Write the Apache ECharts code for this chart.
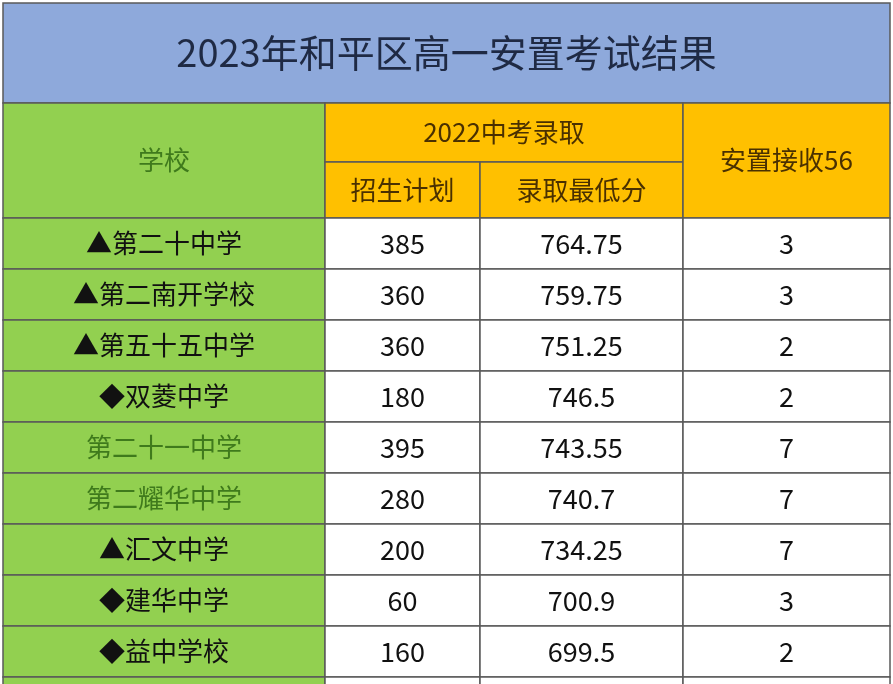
<!DOCTYPE html>
<html>
<head>
	<meta charset="utf-8">
	<title>安置考试结果</title>
	<script src="https://cdn.jsdelivr.net/npm/echarts@6/dist/echarts.min.js"></script>
	<style>body{margin:0;background:#fff}#main{width:893px;height:684px}</style>
</head>
<body>
	<div id="main"></div>
	<script>
		var titleText = '2023年和平区高一安置考试结果';
		var schools = ['▲第二十中学', '▲第二南开学校', '▲第五十五中学', '◆双菱中学', '第二十一中学', '第二耀华中学', '▲汇文中学', '◆建华中学', '◆益中学校'];
		var plans = ['385', '360', '360', '180', '395', '280', '200', '60', '160'];
		var minScores = ['764.75', '759.75', '751.25', '746.5', '743.55', '740.7', '734.25', '700.9', '699.5'];
		var placed = ['3', '3', '2', '2', '7', '7', '7', '3', '2'];

		var font = '"Noto Sans CJK SC", sans-serif';
		var colX = [3, 325, 480, 683, 893];
		var rowTop = 218, rowH = 51;
		var els = [];

		function cell(x, y, w, h, fill, text, color, size) {
			els.push({ type: 'rect', shape: { x: x, y: y, width: w, height: h },
				style: { fill: fill, stroke: '#5a5a5a', lineWidth: 1.5 } });
			if (text) els.push({ type: 'text', x: x + w / 2, y: y + h / 2,
				style: { text: text, fill: color, font: size + 'px ' + font, align: 'center', verticalAlign: 'middle' } });
		}

		// title band
		cell(3, 3, 887, 100, '#8EA9DB', titleText, '#1f2a44', 38);
		// header
		cell(colX[0], 103, colX[1] - colX[0], 115, '#92D050', '学校', '#3f7a1c', 26);
		cell(colX[1], 103, colX[3] - colX[1], 59, '#FFC000', '2022中考录取', '#4a3000', 26);
		cell(colX[1], 162, colX[2] - colX[1], 56, '#FFC000', '招生计划', '#4a3000', 26);
		cell(colX[2], 162, colX[3] - colX[2], 56, '#FFC000', '录取最低分', '#4a3000', 26);
		cell(colX[3], 103, colX[4] - colX[3] - 3, 115, '#FFC000', '安置接收56', '#4a3000', 26);

		for (var i = 0; i <= schools.length; i++) {
			var y = rowTop + i * rowH;
			var last = i === schools.length;
			var green = !last && schools[i].charAt(0) !== '▲' && schools[i].charAt(0) !== '◆';
			cell(colX[0], y, colX[1] - colX[0], rowH, '#92D050', last ? '' : schools[i], green ? '#3f7a1c' : '#111', 26);
			cell(colX[1], y, colX[2] - colX[1], rowH, '#fff', last ? '' : plans[i], '#111', 27);
			cell(colX[2], y, colX[3] - colX[2], rowH, '#fff', last ? '' : minScores[i], '#111', 27);
			cell(colX[3], y, colX[4] - colX[3] - 3, rowH, '#fff', last ? '' : placed[i], '#111', 27);
		}

		var chart = echarts.init(document.getElementById('main'));
		chart.setOption({ animation: false, graphic: { elements: els } });
	</script>
</body>
</html>
